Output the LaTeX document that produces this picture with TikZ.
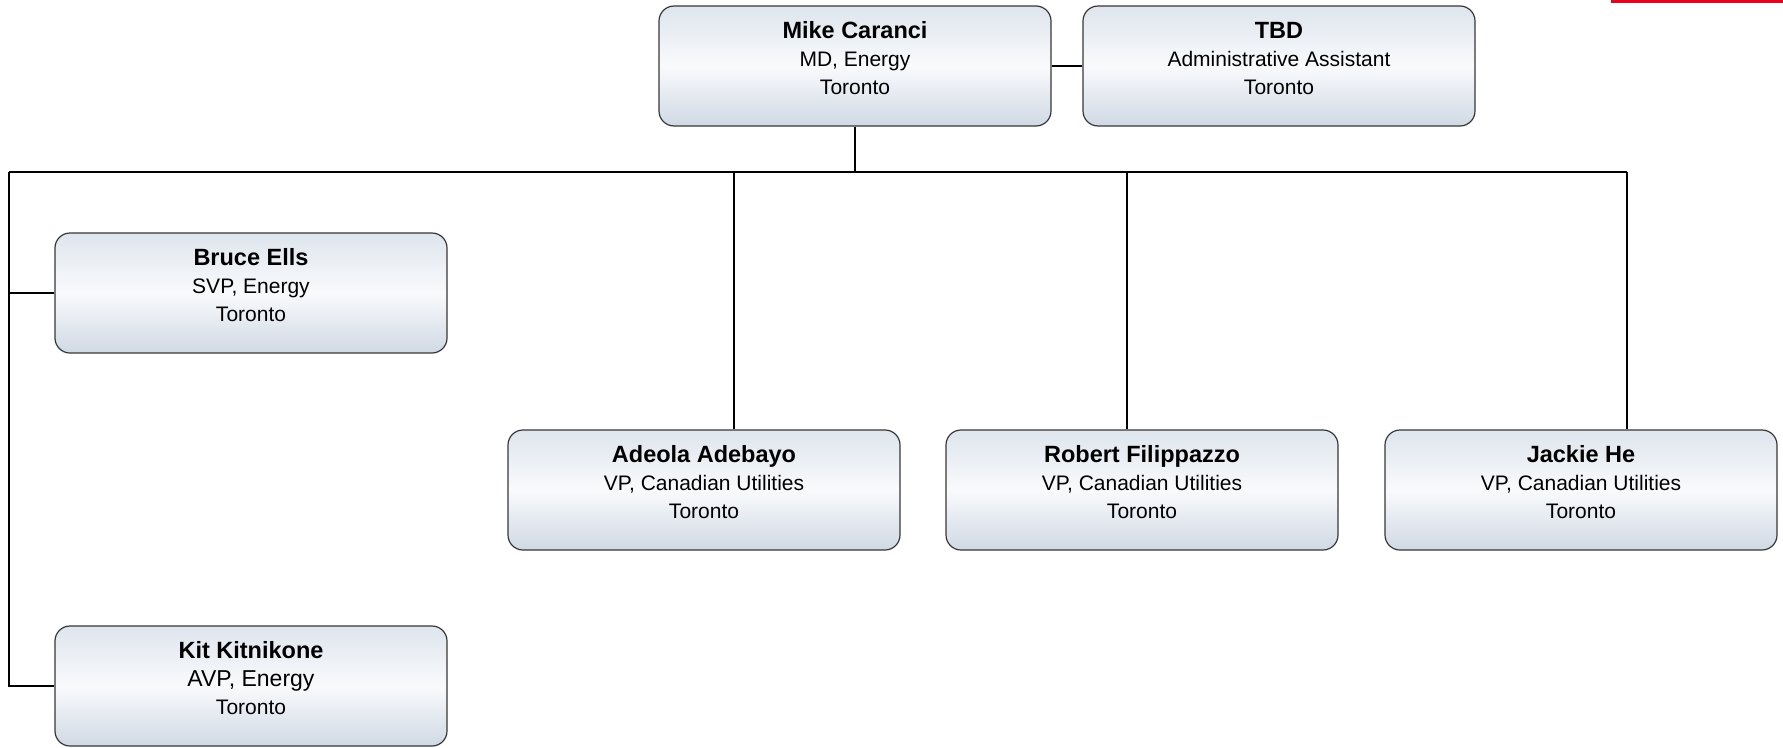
\documentclass[tikz,border=0pt]{standalone}
\usepackage{fontspec}
\setmainfont{Liberation Sans}
\definecolor{boxtop}{RGB}{222,229,237}
\definecolor{boxmid}{RGB}{249,250,252}
\definecolor{boxbot}{RGB}{208,217,228}
\definecolor{rimgray}{RGB}{55,55,55}
\definecolor{barred}{RGB}{232,0,28}
\tikzset{x=1pt, y=-1pt,
    person/.style={draw=rimgray, line width=1.2pt, rounded corners=15pt,
        minimum width=392pt, minimum height=120pt, inner sep=0pt,
        align=center, text depth=16pt,
        top color=boxtop, bottom color=boxbot, middle color=boxmid,
        font=\fontsize{21}{28}\selectfont},
    link/.style={line width=1.8pt, black},
    }
\newcommand{\who}[1]{{\fontsize{23.5}{28}\selectfont\bfseries #1}}

\begin{document}
\begin{tikzpicture}
\useasboundingbox (0,0) rectangle (1783,747);
\fill[barred] (1611,0) rectangle (1783,3);

\node[person] (mike) at (855,66) {\who{Mike Caranci}\\MD, Energy\\Toronto};
\node[person] (tbd) at (1279,66) {\who{TBD}\\Administrative Assistant\\Toronto};
\node[person] (bruce) at (251,293) {\who{Bruce Ells}\\SVP, Energy\\Toronto};
\node[person] (kit) at (251,686) {\who{Kit Kitnikone}\\{\fontsize{23}{28}\selectfont AVP, Energy}\\Toronto};
\node[person] (adeola) at (704,490) {\who{Adeola Adebayo}\\VP, Canadian Utilities\\Toronto};
\node[person] (robert) at (1142,490) {\who{Robert Filippazzo}\\VP, Canadian Utilities\\Toronto};
\node[person] (jackie) at (1581,490) {\who{Jackie He}\\VP, Canadian Utilities\\Toronto};

% bus and drops
\coordinate (busL) at (9,172);
\coordinate (busR) at (1627,172);
\coordinate (dropA) at (734,172);
\coordinate (dropR) at (1127,172);
\draw[link] (mike) -- (tbd);
\draw[link] (mike.south) -- (mike.south |- busL);
\draw[link] (busL) -- (busR);
\draw[link] (busL) |- (kit.west);
\draw[link] (busL |- bruce.west) -- (bruce.west);
\draw[link] (dropA) -- (dropA |- adeola.north);
\draw[link] (dropR) -- (dropR |- robert.north);
\draw[link] (busR) -- (busR |- jackie.north);
\end{tikzpicture}
\end{document}
